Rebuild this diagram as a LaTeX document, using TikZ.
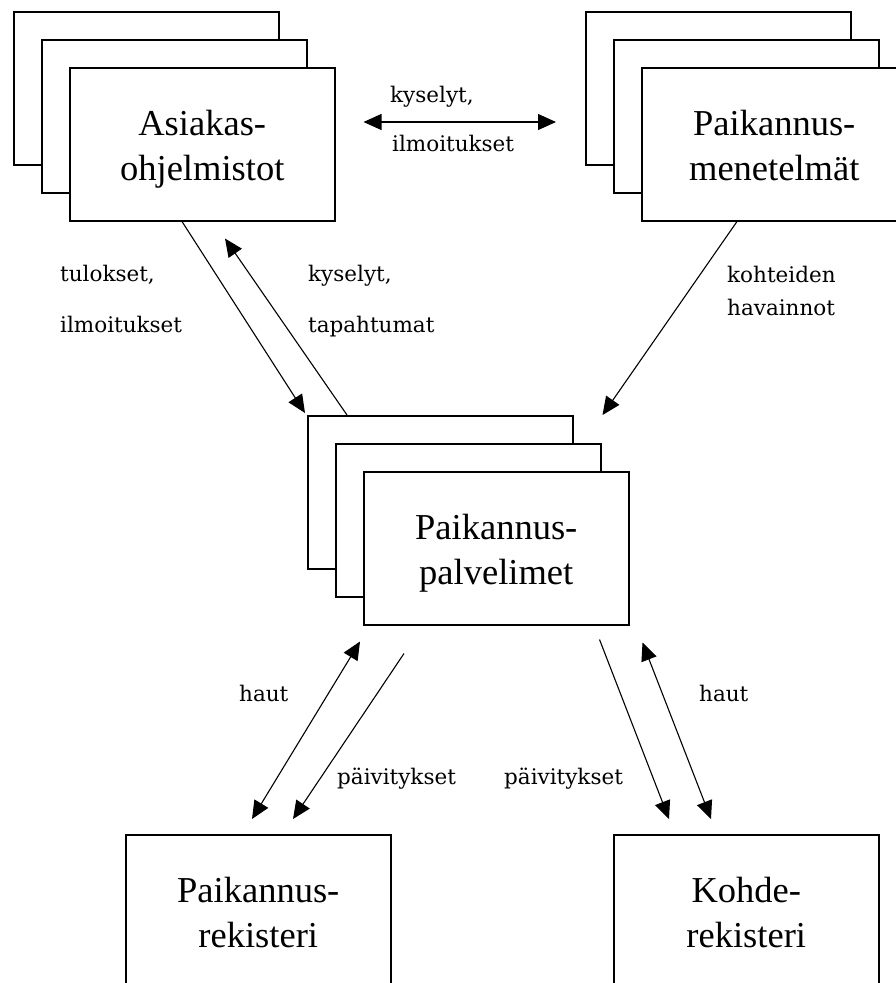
\documentclass[tikz,border=0pt]{standalone}
\usepackage{fontspec}
\setmainfont{Liberation Serif}
\newfontfamily\labelfont{DejaVu Serif}
\usetikzlibrary{arrows.meta,calc}

% two-line card caption; the struts pin both baselines inside the card
\newcommand{\cardlines}[2]{\rule{0pt}{37pt}#1\\#2\rule[-9pt]{0pt}{9pt}}

\tikzset{
  card/.style={draw, line width=1.5pt, fill=white, minimum width=265pt,
    minimum height=153pt, inner sep=0pt, anchor=north west,
    font=\fontsize{36.5}{45}\selectfont, align=center},
  lbl/.style={font=\labelfont\fontsize{21.5}{25}\selectfont, anchor=base west, inner sep=0pt},
  tip/.tip={Triangle[length=18pt,width=16pt]},
  flow/.style={line width=1.1pt, -tip},
  flowboth/.style={line width=1.1pt, tip-tip}
}

\begin{document}
\begin{tikzpicture}[x=1pt,y=-1pt]
\useasboundingbox (0,0) rectangle (896,983);

% client applications (stack of three)
\node[card] (a1) at (13,11) {};
\node[card] (a2) at (41,39) {};
\node[card] (a3) at (69,67) {\cardlines{Asiakas-}{ohjelmistot}};

% positioning methods (stack of three)
\node[card] (m1) at (585,11) {};
\node[card] (m2) at (613,39) {};
\node[card] (m3) at (641,67) {\cardlines{Paikannus-}{menetelmät}};

% positioning servers (stack of three)
\node[card] (p1) at (307,415) {};
\node[card] (p2) at (335,443) {};
\node[card] (p3) at (363,471) {\cardlines{Paikannus-}{palvelimet}};

% registers
\node[card] (r1) at (125,834) {\cardlines{Paikannus-}{rekisteri}};
\node[card] (k1) at (613,834) {\cardlines{Kohde-}{rekisteri}};

% arrow end points
\coordinate (hzL) at ($(a3.north east)+(28,55)$);
\coordinate (hzR) at ($(m1.north west)+(-29,111)$);
\coordinate (aDownS) at ($(a3.south west)+(113,0)$);
\coordinate (aDownE) at ($(p1.north west)+(-2,-2)$);
\coordinate (aUpS) at ($(p1.north west)+(40,0)$);
\coordinate (aUpE) at ($(a3.south west)+(156,17)$);
\coordinate (mS) at ($(m3.south west)+(96,0)$);
\coordinate (mE) at ($(p1.north east)+(29,0)$);
\coordinate (hautLa) at ($(p3.south west)+(-3,16)$);
\coordinate (hautLb) at ($(r1.north west)+(127,-15)$);
\coordinate (paivLa) at ($(p3.south west)+(41,28)$);
\coordinate (paivLb) at ($(r1.north west)+(168,-15)$);
\coordinate (paivRa) at ($(p3.south east)+(-30,14)$);
\coordinate (paivRb) at ($(k1.north west)+(56,-15)$);
\coordinate (hautRa) at ($(p3.south east)+(13,17)$);
\coordinate (hautRb) at ($(k1.north west)+(98,-15)$);

% connectors
\draw[flowboth] (hzL) -- (hzR);
\draw[flow] (aDownS) -- (aDownE);
\draw[flow] (aUpS) -- (aUpE);
\draw[flow] (mS) -- (mE);
\draw[flowboth] (hautLa) -- (hautLb);
\draw[flow] (paivLa) -- (paivLb);
\draw[flow] (paivRa) -- (paivRb);
\draw[flowboth] (hautRa) -- (hautRb);

% connector labels
\node[lbl] (l1) at (390,102) {kyselyt,};
\node[lbl] (l2) at (392,151) {ilmoitukset};
\node[lbl] (l3) at (60,281) {tulokset,};
\node[lbl] (l4) at (60,332) {ilmoitukset};
\node[lbl] (l5) at (308,281) {kyselyt,};
\node[lbl] (l6) at (308,332) {tapahtumat};
\node[lbl] (l7) at (727,282) {kohteiden};
\node[lbl] (l8) at (727,315) {havainnot};
\node[lbl] (l9) at (239,701) {haut};
\node[lbl] (l10) at (337,784) {päivitykset};
\node[lbl] (l11) at (504,784) {päivitykset};
\node[lbl] (l12) at (699,701) {haut};
\end{tikzpicture}
\end{document}
